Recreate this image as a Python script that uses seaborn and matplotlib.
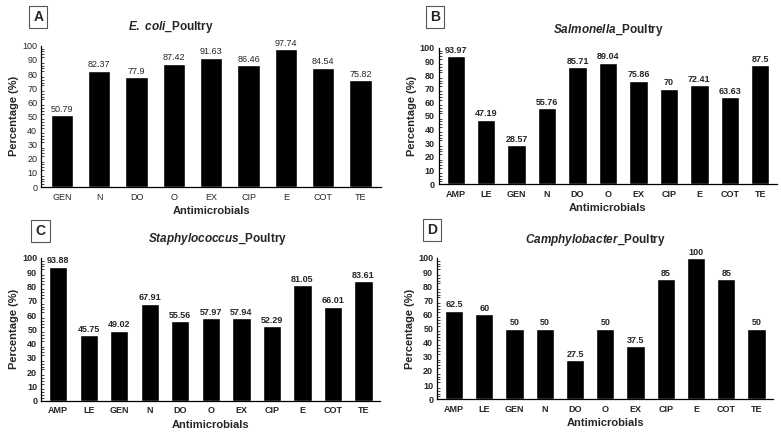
import matplotlib
matplotlib.use("Agg")
import matplotlib.pyplot as plt
import seaborn as sns
import pandas as pd
from matplotlib.ticker import MultipleLocator

# ---- data ----
ecoli_drugs = ["GEN", "N", "DO", "O", "EX", "CIP", "E", "COT", "TE"]
ecoli_vals = [50.79, 82.37, 77.9, 87.42, 91.63, 86.46, 97.74, 84.54, 75.82]

salm_drugs = ["AMP", "LE", "GEN", "N", "DO", "O", "EX", "CIP", "E", "COT", "TE"]
salm_vals = [93.97, 47.19, 28.57, 55.76, 85.71, 89.04, 75.86, 70, 72.41, 63.63, 87.5]

staph_drugs = ["AMP", "LE", "GEN", "N", "DO", "O", "EX", "CIP", "E", "COT", "TE"]
staph_vals = [93.88, 45.75, 49.02, 67.91, 55.56, 57.97, 57.94, 52.29, 81.05, 66.01, 83.61]

camp_drugs = ["AMP", "LE", "GEN", "N", "DO", "O", "EX", "CIP", "E", "COT", "TE"]
camp_vals = [62.5, 60, 50, 50, 27.5, 50, 37.5, 85, 100, 85, 50]

value_labels_ecoli = ["50.79", "82.37", "77.9", "87.42", "91.63", "86.46", "97.74", "84.54", "75.82"]
value_labels_salm = ["93.97", "47.19", "28.57", "55.76", "85.71", "89.04", "75.86", "70", "72.41", "63.63", "87.5"]
value_labels_staph = ["93.88", "45.75", "49.02", "67.91", "55.56", "57.97", "57.94", "52.29", "81.05", "66.01", "83.61"]
value_labels_camp = ["62.5", "60", "50", "50", "27.5", "50", "37.5", "85", "100", "85", "50"]

sns.set_style("white")
plt.rcParams["font.family"] = ["Liberation Sans", "DejaVu Sans"]
plt.rcParams["mathtext.fontset"] = "custom"
plt.rcParams["mathtext.it"] = "Liberation Sans:italic:bold"
plt.rcParams["mathtext.rm"] = "Liberation Sans:bold"

fig = plt.figure(figsize=(7.81, 4.32), dpi=100)

panels = [
    # letter, title, drugs, vals, labels, rect, bold, title_x, letter_xy
    ("A", r"$\it{E.\ coli}$_Poultry", ecoli_drugs, ecoli_vals, value_labels_ecoli,
     [0.053, 0.567, 0.435, 0.327], False, 0.38, (0.049, 0.96)),
    ("B", r"$\it{Salmonella}$_Poultry", salm_drugs, salm_vals, value_labels_salm,
     [0.562, 0.574, 0.433, 0.315], True, 0.5, (0.557, 0.96)),
    ("C", r"$\it{Staphylococcus}$_Poultry", staph_drugs, staph_vals, value_labels_staph,
     [0.053, 0.072, 0.434, 0.331], True, 0.52, (0.052, 0.465)),
    ("D", r"$\it{Camphylobacter}$_Poultry", camp_drugs, camp_vals, value_labels_camp,
     [0.560, 0.076, 0.430, 0.327], True, 0.47, (0.553, 0.467)),
]

for letter, title, drugs, vals, labels, rect, bold, tx, lxy in panels:
    ax = fig.add_axes(rect)
    df = pd.DataFrame({"Antimicrobials": drugs, "Percentage": vals})
    sns.barplot(data=df, x="Antimicrobials", y="Percentage", color="black",
                width=0.6, ax=ax, saturation=1)
    w = "bold" if bold else "normal"
    ax.bar_label(ax.containers[0], labels=labels, fontsize=6.5, fontweight=w, padding=1)
    ax.set_ylim(0, 100)
    ax.set_xlim(-0.55, len(drugs) - 0.45)
    ax.yaxis.set_major_locator(MultipleLocator(10))
    ax.yaxis.set_minor_locator(MultipleLocator(2))
    ax.tick_params(axis="y", which="major", direction="inout", length=4, width=0.8,
                   labelsize=6.5, pad=1)
    ax.tick_params(axis="y", which="minor", direction="in", length=2, width=0.6,
                   left=True)
    ax.tick_params(axis="x", which="both", length=0, labelsize=6.5, pad=4)
    for t in ax.get_xticklabels() + ax.get_yticklabels():
        t.set_fontweight(w)
    ax.set_ylabel("Percentage (%)", fontsize=8, fontweight="bold", labelpad=2)
    ax.set_xlabel("Antimicrobials", fontsize=8, fontweight="bold", labelpad=3)
    for s in ["top", "right"]:
        ax.spines[s].set_visible(False)
    for s in ["left", "bottom"]:
        ax.spines[s].set_color("black")
        ax.spines[s].set_linewidth(0.9)
    ax.text(tx, 1.13, title, transform=ax.transAxes, ha="center", va="center",
            fontsize=8.5, fontweight="bold")
    fig.text(lxy[0], lxy[1], letter, ha="center", va="center", fontsize=10,
             fontweight="bold",
             bbox=dict(boxstyle="square,pad=0.3", fc="white", ec="#555555", lw=0.8))

fig.savefig("out.png", dpi=100)
